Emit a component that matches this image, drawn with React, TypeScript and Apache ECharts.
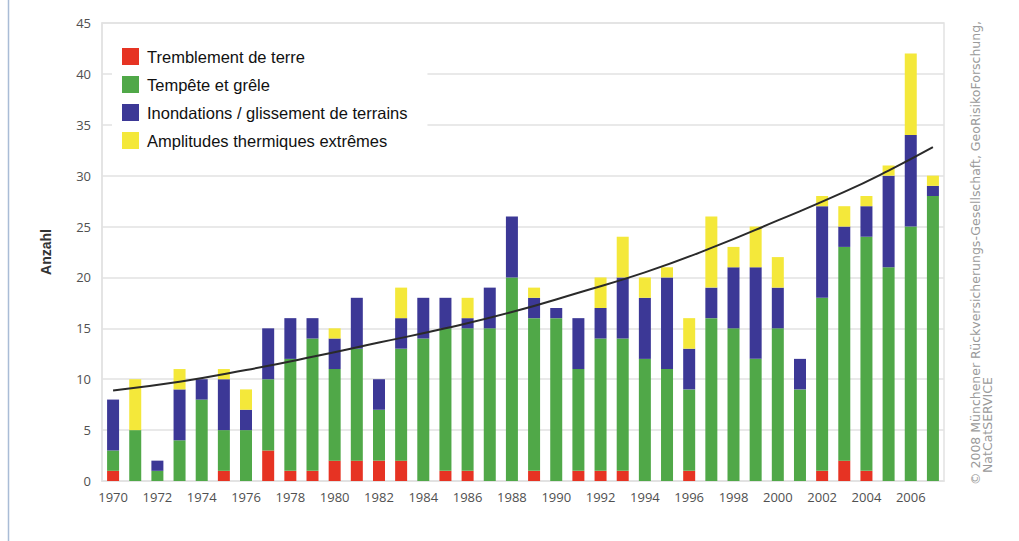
import React, { useEffect, useRef } from 'react';
import * as echarts from 'echarts';

const years = [
  '1970', '1971', '1972', '1973', '1974', '1975', '1976', '1977', '1978', '1979',
  '1980', '1981', '1982', '1983', '1984', '1985', '1986', '1987', '1988', '1989',
  '1990', '1991', '1992', '1993', '1994', '1995', '1996', '1997', '1998', '1999',
  '2000', '2001', '2002', '2003', '2004', '2005', '2006', '2007',
];

// Tremblement de terre
const earthquake = [1, 0, 0, 0, 0, 1, 0, 3, 1, 1, 2, 2, 2, 2, 0, 1, 1, 0, 0, 1, 0, 1, 1, 1, 0, 0, 1, 0, 0, 0, 0, 0, 1, 2, 1, 0, 0, 0];
// Tempête et grêle
const storm = [2, 5, 1, 4, 8, 4, 5, 7, 11, 13, 9, 11, 5, 11, 14, 14, 14, 15, 20, 15, 16, 10, 13, 13, 12, 11, 8, 16, 15, 12, 15, 9, 17, 21, 23, 21, 25, 28];
// Inondations / glissement de terrains
const flood = [5, 0, 1, 5, 2, 5, 2, 5, 4, 2, 3, 5, 3, 3, 4, 3, 1, 4, 6, 2, 1, 5, 3, 6, 6, 9, 4, 3, 6, 9, 4, 3, 9, 2, 3, 9, 9, 1];
// Amplitudes thermiques extrêmes
const temperature = [0, 5, 0, 2, 0, 1, 2, 0, 0, 0, 1, 0, 0, 3, 0, 0, 2, 0, 0, 1, 0, 0, 3, 4, 2, 1, 3, 7, 2, 4, 3, 0, 1, 2, 1, 1, 8, 1];

// Trend curve
const trendYears = ['1970', '1973', '1976', '1979', '1982', '1985', '1988', '1991', '1994', '1997', '2000', '2003', '2005', '2007'];
const trendValues = [8.9, 9.75, 10.9, 12.2, 13.6, 15.0, 16.6, 18.5, 20.5, 22.9, 25.6, 28.4, 30.5, 32.8];

const seriesNames = [
  'Tremblement de terre',
  'Tempête et grêle',
  'Inondations / glissement de terrains',
  'Amplitudes thermiques extrêmes',
];
const seriesColors = ['#e63323', '#50a848', '#3c3896', '#f4e83a'];
const seriesData = [earthquake, storm, flood, temperature];

export default function App() {
  const ref = useRef<HTMLDivElement>(null);

  useEffect(() => {
    if (!ref.current) return;
    const chart = echarts.init(ref.current, null, { renderer: 'svg' });
    const gridColor = '#e2e2e2';
    chart.setOption({
      animation: false,
      backgroundColor: '#ffffff',
      grid: {
        left: 102,
        right: 75,
        top: 23,
        bottom: 60,
        show: true,
        borderColor: gridColor,
        borderWidth: 1.5,
        containLabel: false,
      },
      legend: {
        data: seriesNames,
        orient: 'vertical',
        left: 112,
        top: 38,
        padding: [10, 20, 10, 10],
        backgroundColor: '#ffffff',
        itemWidth: 17,
        itemHeight: 17,
        itemGap: 11,
        icon: 'rect',
        textStyle: {
          fontFamily: 'Liberation Sans',
          fontSize: 16.5,
          color: '#111',
          padding: [0, 0, 0, 3],
        },
      },
      xAxis: {
        type: 'category',
        data: years,
        axisTick: { show: false },
        axisLine: { show: true, lineStyle: { color: gridColor, width: 1.5 } },
        axisLabel: {
          interval: 1,
          margin: 9,
          fontFamily: 'Open Sans',
          fontSize: 13,
          color: '#505050',
        },
      },
      yAxis: {
        type: 'value',
        min: 0,
        max: 45,
        interval: 5,
        axisLine: { show: true, lineStyle: { color: gridColor, width: 1.5 } },
        axisTick: { show: false },
        splitLine: { show: true, lineStyle: { color: gridColor, width: 1.5 } },
        axisLabel: {
          margin: 11,
          fontFamily: 'Open Sans',
          fontSize: 13,
          color: '#505050',
        },
      },
      series: [
        ...seriesNames.map((name, i) => ({
          name,
          type: 'bar',
          stack: 'total',
          barWidth: 12,
          data: seriesData[i],
          itemStyle: { color: seriesColors[i] },
        })),
        {
          name: 'Trend',
          type: 'line',
          data: trendYears.map((y, i) => [y, trendValues[i]]),
          smooth: true,
          symbol: 'none',
          z: 5,
          lineStyle: { color: '#2a2a2a', width: 2 },
        },
      ],
      graphic: [
        {
          type: 'line',
          shape: { x1: 8.5, y1: 0, x2: 8.5, y2: 541 },
          style: { stroke: '#a9bcd6', lineWidth: 1.5 },
        },
        {
          type: 'text',
          x: 46,
          y: 252,
          rotation: Math.PI / 2,
          style: {
            text: 'Anzahl',
            font: 'bold 14px "Liberation Sans"',
            fill: '#333',
            textAlign: 'center',
            textVerticalAlign: 'middle',
          },
        },
        {
          type: 'text',
          x: 969,
          y: 485,
          rotation: Math.PI / 2,
          style: {
            text: '© 2008 Münchener Rückversicherungs-Gesellschaft, GeoRisikoForschung,',
            font: '12.5px "DejaVu Sans"',
            fill: '#9a9a9a',
            textAlign: 'left',
            textVerticalAlign: 'top',
          },
        },
        {
          type: 'text',
          x: 981,
          y: 473,
          rotation: Math.PI / 2,
          style: {
            text: 'NatCatSERVICE',
            font: '12.5px "DejaVu Sans"',
            fill: '#9a9a9a',
            textAlign: 'left',
            textVerticalAlign: 'top',
          },
        },
      ],
    });
    return () => {
      chart.dispose();
    };
  }, []);

  return (
    <div
      ref={ref}
      style={{ position: 'fixed', left: 0, top: 0, width: 1019, height: 541, background: '#fff' }}
    />
  );
}
